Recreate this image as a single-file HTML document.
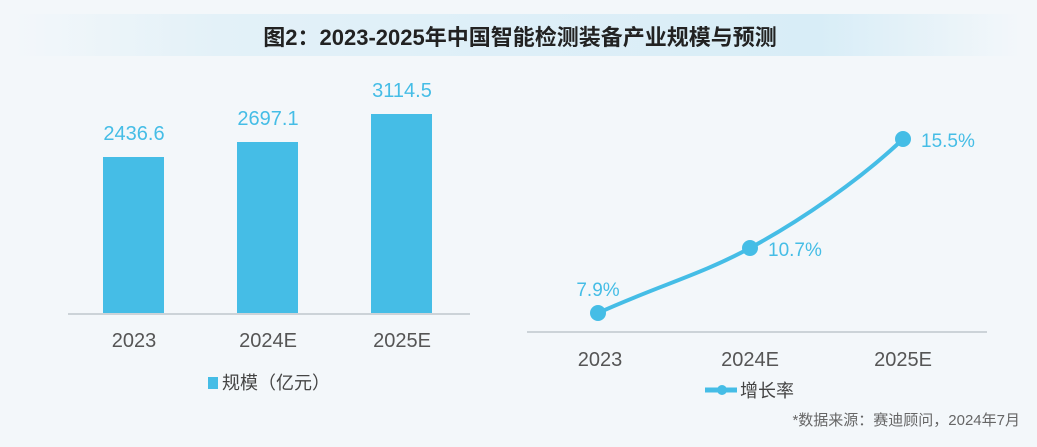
<!DOCTYPE html>
<html><head><meta charset="utf-8"><style>
body{margin:0;width:1037px;height:442px;overflow:hidden;background:#f3f7fa;font-family:"Liberation Sans","Noto Sans CJK SC",sans-serif;}
</style></head><body>
<svg width="1037" height="442" xmlns="http://www.w3.org/2000/svg" style="font-family:'Liberation Sans','Noto Sans CJK SC',sans-serif">
<defs><linearGradient id="g" x1="0" x2="1"><stop offset="0" stop-color="#f3f7fa"/><stop offset="0.2" stop-color="#e3f1f8"/><stop offset="0.8" stop-color="#d8edf7"/><stop offset="1" stop-color="#f3f7fa"/></linearGradient></defs>
<rect x="0" y="0" width="1037" height="442" fill="#f3f7fa"/>
<rect x="15" y="14" width="1005" height="42" fill="url(#g)"/>
<text x="520" y="45" text-anchor="middle" font-size="22" font-weight="bold" fill="#222">图2：2023-2025年中国智能检测装备产业规模与预测</text>
<g fill="#45bde6">
<rect x="103" y="157" width="61" height="156"/>
<rect x="237" y="142" width="61" height="171"/>
<rect x="371" y="114" width="61" height="199"/>
</g>
<line x1="68" y1="314" x2="470" y2="314" stroke="#ccd3d8" stroke-width="2"/>
<g font-size="20" fill="#45bde6" text-anchor="middle">
<text x="134" y="140">2436.6</text><text x="268" y="125">2697.1</text><text x="402" y="97">3114.5</text>
</g>
<g font-size="20" fill="#555" text-anchor="middle">
<text x="134" y="347">2023</text><text x="268" y="347">2024E</text><text x="402" y="347">2025E</text>
<text x="600" y="366">2023</text><text x="750" y="366">2024E</text><text x="903" y="366">2025E</text>
</g>
<rect x="208" y="377" width="10" height="12" fill="#45bde6"/>
<text x="222" y="389" font-size="18" fill="#444">规模（亿元）</text>
<line x1="527" y1="332" x2="987" y2="332" stroke="#ccd3d8" stroke-width="2"/>
<path d="M598,313 C660,285 700,275 750,248 S860,180 903,139" fill="none" stroke="#45bde6" stroke-width="4"/>
<g fill="#45bde6"><circle cx="598" cy="313" r="8"/><circle cx="750" cy="248" r="8"/><circle cx="903" cy="139" r="8"/></g>
<g font-size="19" fill="#45bde6">
<text x="598" y="296" text-anchor="middle">7.9%</text>
<text x="768" y="256">10.7%</text>
<text x="921" y="147">15.5%</text>
</g>
<line x1="705" y1="390" x2="737" y2="390" stroke="#45bde6" stroke-width="5"/>
<circle cx="722" cy="390" r="5" fill="#45bde6"/>
<text x="740" y="397" font-size="18" fill="#444">增长率</text>
<text x="1020" y="425" text-anchor="end" font-size="15" fill="#666">*数据来源：赛迪顾问，2024年7月</text>
</svg>
</body></html>
